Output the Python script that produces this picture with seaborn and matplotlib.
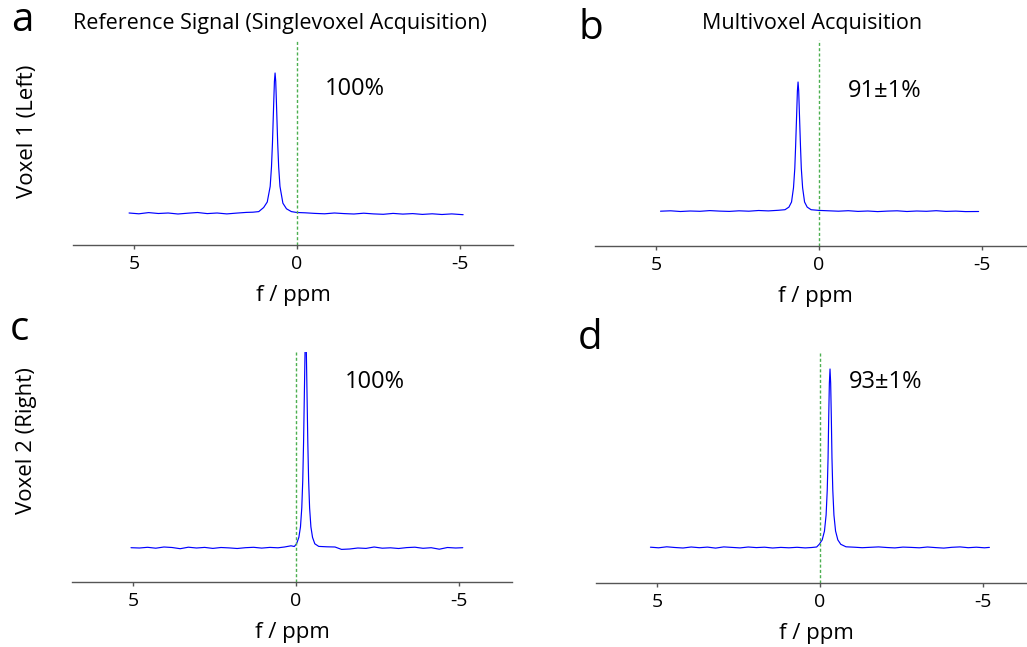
import matplotlib
matplotlib.use('Agg')
import matplotlib.pyplot as plt
import seaborn as sns

# spectra (ppm, intensity in arbitrary units)
ppm_a = [5.15, 4.85, 4.55, 4.25, 3.95, 3.65, 3.35, 3.05, 2.75, 2.45, 2.15, 1.85, 1.55, 1.35,
         1.17, 1.02, 0.91, 0.82, 0.78, 0.75, 0.71, 0.69, 0.67, 0.65, 0.63, 0.59, 0.56, 0.52,
         0.43, 0.32, 0.17, 0.0, -0.25, -0.55, -0.85, -1.15, -1.45, -1.75, -2.05, -2.35, -2.65,
         -2.95, -3.25, -3.55, -3.85, -4.15, -4.45, -4.75, -5.1]
int_a = [0.320, 0.312, 0.324, 0.315, 0.320, 0.310, 0.318, 0.325, 0.314, 0.320, 0.311, 0.319, 0.326, 0.328,
         0.334, 0.375, 0.43, 0.586, 0.782, 1.02, 1.44, 1.636, 1.72, 1.636, 1.44, 1.02, 0.782, 0.586,
         0.418, 0.362, 0.334, 0.325, 0.322, 0.316, 0.312, 0.320, 0.314, 0.310, 0.318, 0.311, 0.307,
         0.316, 0.309, 0.314, 0.306, 0.312, 0.305, 0.311, 0.303]

ppm_b = [4.86, 4.55, 4.25, 3.95, 3.65, 3.35, 3.05, 2.75, 2.45, 2.15, 1.85, 1.55, 1.25,
         1.04, 0.92, 0.84, 0.78, 0.74, 0.715, 0.68, 0.66, 0.64, 0.62, 0.60, 0.565, 0.54, 0.50,
         0.44, 0.36, 0.24, 0.0, -0.3, -0.6, -0.9, -1.2, -1.5, -1.8, -2.1, -2.4, -2.7, -3.0,
         -3.3, -3.6, -3.9, -4.2, -4.5, -4.9]
int_b = [0.348, 0.352, 0.345, 0.350, 0.347, 0.354, 0.349, 0.346, 0.352, 0.348, 0.355, 0.351, 0.357,
         0.363, 0.389, 0.44, 0.582, 0.776, 0.995, 1.343, 1.55, 1.64, 1.55, 1.343, 0.995, 0.776, 0.582,
         0.44, 0.389, 0.363, 0.356, 0.352, 0.348, 0.353, 0.346, 0.350, 0.344, 0.349, 0.352, 0.345, 0.350,
         0.347, 0.353, 0.346, 0.349, 0.344, 0.345]

ppm_c = [5.06, 4.8, 4.55, 4.3, 4.05, 3.8, 3.55, 3.3, 3.05, 2.8, 2.55, 2.3, 2.05, 1.8, 1.55, 1.3,
         1.05, 0.8, 0.55, 0.35, 0.15, 0.05, -0.02, -0.09, -0.14, -0.18, -0.21, -0.235, -0.26, -0.28,
         -0.30, -0.32, -0.34, -0.365, -0.39, -0.42, -0.46, -0.51, -0.58, -0.7, -0.95, -1.2, -1.4,
         -1.65, -1.9, -2.15, -2.4, -2.65, -2.9, -3.15, -3.4, -3.65, -3.9, -4.15, -4.4, -4.65, -4.9, -5.12]
int_c = [0.343, 0.340, 0.347, 0.338, 0.350, 0.345, 0.333, 0.348, 0.340, 0.346, 0.336, 0.345, 0.341, 0.335, 0.343, 0.347,
         0.339, 0.346, 0.342, 0.350, 0.362, 0.355, 0.382, 0.446, 0.551, 0.741, 1.015, 1.395, 1.90, 2.30,
         2.45, 2.30, 1.90, 1.395, 1.015, 0.741, 0.551, 0.446, 0.382, 0.356, 0.352, 0.350, 0.326,
         0.330, 0.340, 0.336, 0.350, 0.338, 0.342, 0.335, 0.344, 0.348, 0.337, 0.343, 0.328, 0.345, 0.340, 0.343]

ppm_d = [5.2, 4.95, 4.7, 4.45, 4.2, 3.95, 3.7, 3.45, 3.2, 2.95, 2.7, 2.45, 2.2, 1.95, 1.7, 1.45,
         1.2, 0.95, 0.7, 0.45, 0.25, 0.1, 0.02, -0.07, -0.14, -0.19, -0.225, -0.25, -0.27, -0.29,
         -0.31, -0.33, -0.35, -0.37, -0.395, -0.43, -0.48, -0.55, -0.64, -0.8, -1.05, -1.3, -1.55,
         -1.8, -2.05, -2.3, -2.55, -2.8, -3.05, -3.3, -3.55, -3.8, -4.05, -4.3, -4.55, -4.8, -5.05, -5.2]
int_d = [0.358, 0.352, 0.362, 0.355, 0.350, 0.360, 0.353, 0.359, 0.349, 0.361, 0.356, 0.351, 0.360, 0.354, 0.358, 0.350,
         0.356, 0.352, 0.357, 0.351, 0.355, 0.360, 0.387, 0.431, 0.52, 0.68, 0.93, 1.25, 1.659, 1.998,
         2.14, 1.998, 1.659, 1.25, 0.93, 0.68, 0.52, 0.431, 0.387, 0.362, 0.358, 0.353, 0.357,
         0.361, 0.355, 0.351, 0.359, 0.356, 0.352, 0.360, 0.354, 0.349, 0.357, 0.361, 0.353, 0.358, 0.352, 0.356]

panel_letters = ['a', 'b', 'c', 'd']
ratios = ['100%', '91\u00b11%', '100%', '93\u00b11%']
col_titles = ['Reference Signal (Singlevoxel Acquisition)', 'Multivoxel Acquisition']
row_labels = ['Voxel 1 (Left)', 'Voxel 2 (Right)']
tick_vals = [5, 0, -5]
tick_labels = ['5', '0', '-5']

sns.set_style('white')
plt.rcParams['font.family'] = ['Open Sans', 'DejaVu Sans']
plt.rcParams['text.color'] = 'black'
plt.rcParams['axes.labelcolor'] = 'black'
plt.rcParams['xtick.color'] = 'black'

W, H = 1027, 647
fig = plt.figure(figsize=(W / 100, H / 100), dpi=100)

def px_axes(left, top, width, height):
    return fig.add_axes([left / W, 1 - (top + height) / H, width / W, height / H])

def px_text(x, y, s, **kw):
    # y measured from the top of the figure
    return fig.text(x / W, 1 - y / H, s, color='black', **kw)

# axes boxes in pixels: left, top, width, height
boxes = [(73, 40, 440, 205), (595, 40, 440, 206), (72, 352, 440, 230), (596, 352, 440, 231)]
ytops = [2.05, 2.06, 2.30, 2.31]
spectra = [(ppm_a, int_a), (ppm_b, int_b), (ppm_c, int_c), (ppm_d, int_d)]
# annotation positions in pixels (left, baseline)
ann_pos = [(325, 95), (848, 97), (345, 388), (849, 388)]
letter_pos = [(11, 31), (578, 39), (10, 340), (578, 349)]

for i, (box, (x, y)) in enumerate(zip(boxes, spectra)):
    ax = px_axes(*box)
    sns.lineplot(x=x, y=y, ax=ax, color='blue', lw=0.85, sort=False, estimator=None)
    ax.axvline(0, color='#4caf50', ls=(0, (2.2, 1.6)), lw=1)
    ax.set_xlim(6.87, -6.63)
    ax.set_ylim(0, ytops[i])
    ax.set_xticks(tick_vals)
    ax.set_xticklabels(tick_labels, fontsize=14)
    ax.set_yticks([])
    for s in ['left', 'right', 'top']:
        ax.spines[s].set_visible(False)
    ax.spines['bottom'].set_color('#555555')
    ax.spines['bottom'].set_linewidth(1)
    ax.tick_params(axis='x', direction='out', length=3, width=1, color='#555555', pad=4, bottom=True)
    ax.set_xlabel('f / ppm', fontsize=16, labelpad=9)
    ax.set_ylabel('')
    px_text(ann_pos[i][0], ann_pos[i][1], ratios[i], fontsize=17, ha='left', va='baseline')
    px_text(letter_pos[i][0], letter_pos[i][1], panel_letters[i], fontsize=29, va='baseline')

px_text(280, 29, col_titles[0], fontsize=15.5, ha='center', va='baseline')
px_text(812, 29, col_titles[1], fontsize=15.5, ha='center', va='baseline')
px_text(27, 131, row_labels[0], fontsize=16, rotation=90, ha='center', va='center')
px_text(27, 441, row_labels[1], fontsize=16, rotation=90, ha='center', va='center')

fig.savefig('out.png', dpi=100)
